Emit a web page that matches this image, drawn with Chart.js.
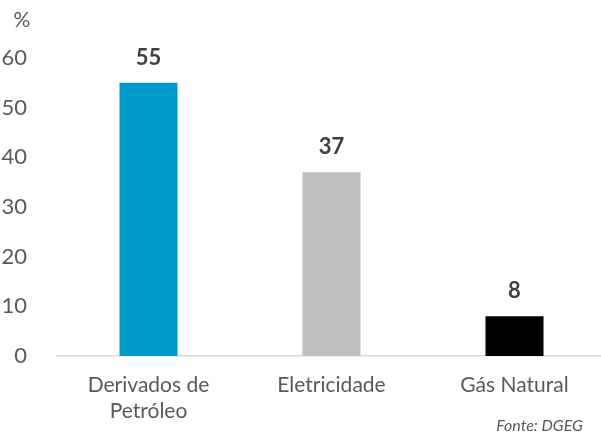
<!DOCTYPE html>
<html>
<head>
<meta charset="utf-8">
<script src="https://cdn.jsdelivr.net/npm/chart.js@4.4.1/dist/chart.umd.min.js"></script>
<style>
  html, body { margin: 0; padding: 0; background: #fff; overflow: hidden; }
  canvas { display: block; }
</style>
</head>
<body>
<canvas id="grafico" width="606" height="438"></canvas>
<script>
// Dados
const categorias = [['Derivados de', 'Petróleo'], 'Eletricidade', 'Gás Natural'];
const valores = [55, 37, 8];
const cores = ['#0099cc', '#bfbfbf', '#000000'];
const ticksY = [0, 10, 20, 30, 40, 50, 60];
const unidade = '%';
const fonte = 'Fonte: DGEG';

// Plugin simples para escrever os valores por cima das barras e os textos extra
const textosExtra = {
    id: 'textosExtra',
    afterDatasetsDraw(chart) {
        const ctx = chart.ctx;
        const meta = chart.getDatasetMeta(0);
        ctx.save();
        ctx.fillStyle = '#404040';
        ctx.font = 'bold 22px Lato';
        ctx.textAlign = 'center';
        ctx.textBaseline = 'middle';
        meta.data.forEach(function(barra, i) {
            ctx.fillText(valores[i], barra.x, barra.y - 25);
        });
        ctx.fillStyle = '#595959';
        ctx.font = '21px Lato';
        ctx.fillText(unidade, 22, 20);
        ctx.font = 'italic 16px Lato';
        ctx.textAlign = 'right';
        ctx.fillText(fonte, 583, 426);
        ctx.restore();
    }
};

const ctx = document.getElementById('grafico').getContext('2d');
const grafico = new Chart(ctx, {
    type: 'bar',
    data: {
        labels: categorias,
        datasets: [{
            data: valores,
            backgroundColor: cores,
            barPercentage: 0.317,
            categoryPercentage: 1
        }]
    },
    options: {
        responsive: false,
        animation: false,
        layout: { padding: { top: 58, bottom: 0, left: 0, right: 0 } },
        plugins: {
            legend: { display: false },
            tooltip: { enabled: false }
        },
        scales: {
            x: {
                grid: { display: false },
                border: { display: true, color: '#d9d9d9', width: 1.5 },
                ticks: {
                    color: '#595959',
                    font: { family: 'Lato', size: 21, lineHeight: 1.25 },
                    padding: 8,
                    maxRotation: 0
                },
                afterFit: function(escala) { escala.height = 82; }
            },
            y: {
                min: 0,
                max: 60,
                afterBuildTicks: function(escala) {
                    escala.ticks = ticksY.map(function(v) { return { value: v }; });
                },
                grid: { display: false },
                border: { display: false },
                ticks: {
                    color: '#595959',
                    font: { family: 'Lato', size: 22 },
                    padding: 22
                },
                afterFit: function(escala) { escala.width = 57; }
            }
        }
    },
    plugins: [textosExtra]
});
</script>
</body>
</html>
